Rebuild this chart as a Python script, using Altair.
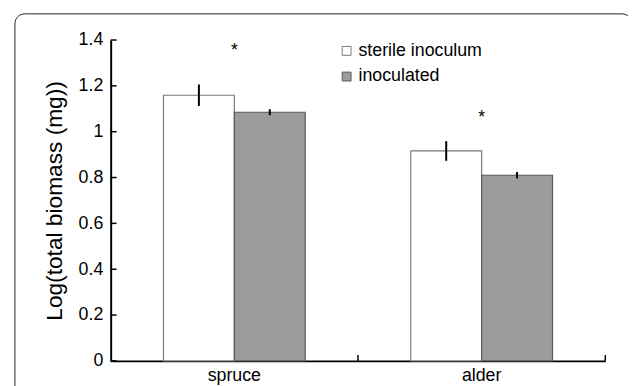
import altair as alt
import pandas as pd

species = ["spruce", "spruce", "alder", "alder"]
groups = ["sterile inoculum", "inoculated", "sterile inoculum", "inoculated"]
means = [1.159, 1.085, 0.916, 0.810]
errors = [0.047, 0.013, 0.043, 0.014]

star_species = ["spruce", "alder"]
star_values = [1.364, 1.074]

y_ticks = [0, 0.2, 0.4, 0.6, 0.8, 1.0, 1.2, 1.4]
cat_order = ["spruce", "alder"]
group_order = ["sterile inoculum", "inoculated"]

FONT = "Liberation Sans"

df = pd.DataFrame({"species": species, "group": groups, "mean": means, "err": errors})
df["lo"] = df["mean"] - df["err"]
df["hi"] = df["mean"] + df["err"]
stars = pd.DataFrame({"species": star_species, "v": star_values})
yt = pd.DataFrame({"t": y_ticks})
xt = pd.DataFrame({"species": cat_order})
box = pd.DataFrame({"a": [0]})

xscale = alt.Scale(domain=cat_order, paddingInner=0, paddingOuter=0)
oscale = alt.Scale(domain=group_order, paddingInner=0, paddingOuter=0.745)
yscale = alt.Scale(domain=[0, 1.4], nice=False)

X = alt.X("species:N", scale=xscale, sort=cat_order,
          axis=alt.Axis(title=None, ticks=False, domainColor="black", domainWidth=2,
                        labelFontSize=18, labelFont=FONT, labelColor="black",
                        labelPadding=6, labelAngle=0))
Y = alt.Y("mean:Q", scale=yscale,
          axis=alt.Axis(title="Log(total biomass (mg))", values=y_ticks, format="~g",
                        ticks=False, grid=False, domainColor="black", domainWidth=2,
                        labelFontSize=18, labelFont=FONT, labelColor="black",
                        labelPadding=8, titleFontSize=23, titleFont=FONT,
                        titleFontWeight="normal", titleColor="black", titlePadding=12))

bars = alt.Chart(df).mark_bar(strokeWidth=1.2).encode(
    x=X,
    xOffset=alt.XOffset("group:N", scale=oscale, sort=group_order),
    y=Y,
    fill=alt.Fill("group:N", scale=alt.Scale(domain=group_order, range=["white", "#9c9c9c"]),
                  legend=alt.Legend(title=None, orient="none", legendX=230, legendY=2,
                                    padding=0, symbolType="square", symbolSize=81,
                                    symbolStrokeWidth=1, labelFontSize=18, labelFont=FONT,
                                    labelColor="black", labelOffset=3, rowPadding=8)),
    stroke=alt.Stroke("group:N", scale=alt.Scale(domain=group_order, range=["#7a7a7a", "#5a5a5a"]),
                      legend=None),
)

errs = alt.Chart(df).mark_rule(color="black", strokeWidth=2).encode(
    x=alt.X("species:N", scale=xscale, sort=cat_order),
    xOffset=alt.XOffset("group:N", scale=oscale, sort=group_order),
    y=alt.Y("lo:Q", scale=yscale),
    y2="hi:Q",
)

star_text = alt.Chart(stars).mark_text(text="*", fontSize=18, font=FONT, color="black",
                                       baseline="middle", dy=3).encode(
    x=alt.X("species:N", scale=xscale, sort=cat_order),
    y=alt.Y("v:Q", scale=yscale),
)

ytick_marks = alt.Chart(yt).mark_rule(color="black", strokeWidth=1.5).encode(
    y=alt.Y("t:Q", scale=yscale),
    x=alt.value(0),
    x2=alt.value(6),
)

xtick_marks = alt.Chart(xt).mark_rule(color="black", strokeWidth=1.5, y2Offset=-6).encode(
    x=alt.X("species:N", scale=xscale, sort=cat_order, bandPosition=1),
    y=alt.datum(0, scale=yscale),
    y2=alt.datum(0),
)

border = alt.Chart(box).mark_rect(fill="transparent", stroke="#222222", strokeWidth=1,
                                  cornerRadius=10).encode(
    x=alt.value(-97), x2=alt.value(528), y=alt.value(-26.5), y2=alt.value(420),
)

chart = alt.layer(border, bars, errs, star_text, ytick_marks, xtick_marks).properties(
    width=501, height=325,
    background="white",
    autosize=alt.AutoSizeParams(type="none"),
    padding={"left": 104, "top": 30, "right": 23, "bottom": 23},
).configure_view(stroke="transparent", strokeWidth=0)

chart.save("out.html", embed_options={"renderer": "svg", "actions": False})
